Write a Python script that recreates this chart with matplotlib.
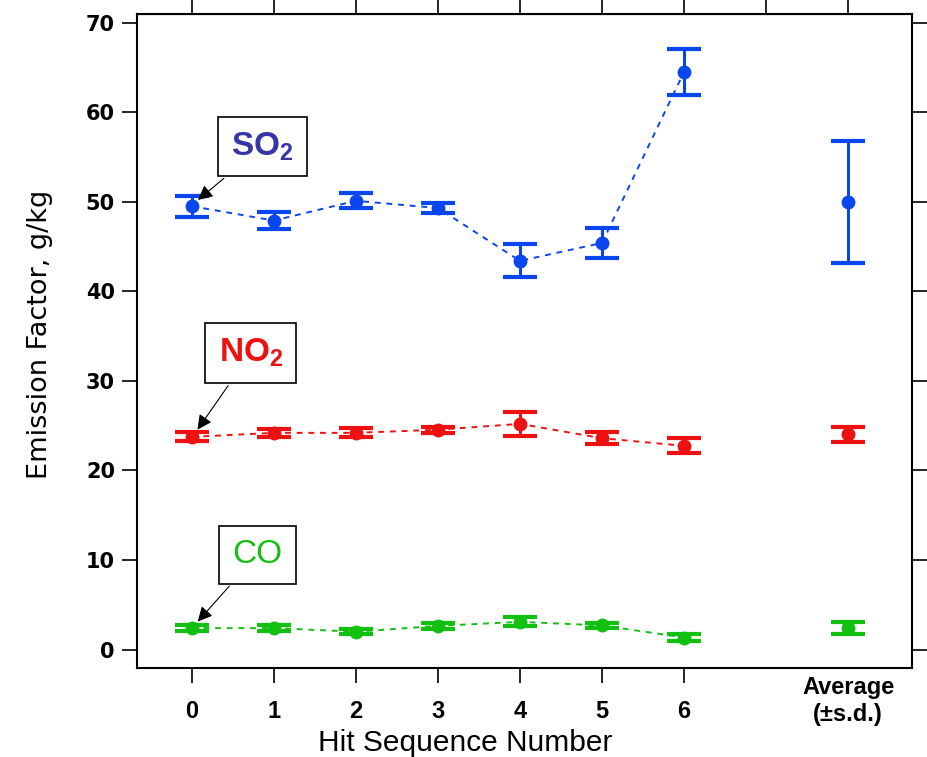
import numpy as np
import matplotlib
matplotlib.use("Agg")
import matplotlib.pyplot as plt
from matplotlib.transforms import blended_transform_factory

# hit sequence 0..6, the average is drawn at x = 8
hits = [0, 1, 2, 3, 4, 5, 6]
avg_x = 8
y_ticks = [0, 10, 20, 30, 40, 50, 60, 70]

so2 = [49.5, 47.9, 50.1, 49.3, 43.4, 45.4, 64.5]
so2_err = [1.15, 0.9, 0.85, 0.55, 1.85, 1.65, 2.55]
so2_avg, so2_sd = 50.0, 6.8

no2 = [23.75, 24.2, 24.2, 24.55, 25.2, 23.6, 22.75]
no2_err = [0.5, 0.45, 0.5, 0.35, 1.35, 0.7, 0.85]
no2_avg, no2_sd = 24.05, 0.85

co = [2.4, 2.4, 2.0, 2.65, 3.1, 2.7, 1.35]
co_err = [0.3, 0.3, 0.3, 0.3, 0.5, 0.3, 0.4]
co_avg, co_sd = 2.4, 0.65

blue = "#0A46EE"
red = "#EE1111"
green = "#12C012"

narrow = ["Liberation Sans", "DejaVu Sans"]
plt.rcParams["mathtext.fontset"] = "custom"
plt.rcParams["mathtext.rm"] = "Liberation Sans"
plt.rcParams["mathtext.bf"] = "Liberation Sans:bold"

fig = plt.figure(figsize=(9.27, 7.57), dpi=100)
ax = fig.add_axes([0.148, 0.117, 0.836, 0.865])

series = [
    (so2, so2_err, so2_avg, so2_sd, blue),
    (no2, no2_err, no2_avg, no2_sd, red),
    (co, co_err, co_avg, co_sd, green),
]
for vals, errs, avg, sd, col in series:
    ax.plot(hits, vals, ls=(0, (3, 3)), lw=1.4, color=col, zorder=2)
    ax.errorbar(hits, vals, yerr=errs, fmt="o", color=col, ms=9,
                elinewidth=2.2, capsize=12, capthick=3, zorder=3)
    ax.errorbar([avg_x], [avg], yerr=[sd], fmt="o", color=col, ms=9,
                elinewidth=2.2, capsize=12, capthick=3, zorder=3)

# species labels with arrows to the first point
box = dict(boxstyle="square,pad=0.4", fc="white", ec="black", lw=1.2)
arrow = dict(arrowstyle="-|>", color="black", lw=0.8, mutation_scale=22)
ax.annotate(r"SO$_\mathbf{2}$", xy=(0.05, 50.0), xytext=(0.86, 56.2), ha="center", va="center",
            fontsize=24, fontweight="bold", color="#3535A5", family=narrow,
            bbox=box, arrowprops=arrow)
ax.annotate(r"NO$_\mathbf{2}$", xy=(0.05, 24.3), xytext=(0.72, 33.1), ha="center", va="center",
            fontsize=24, fontweight="bold", color=red, family=narrow,
            bbox=box, arrowprops=arrow)
ax.annotate("CO", xy=(0.05, 2.9), xytext=(0.80, 10.6), ha="center", va="center",
            fontsize=24, color=green, family=narrow,
            bbox=box, arrowprops=arrow)

ax.set_xlim(-0.665, 8.78)
ax.set_ylim(-2.1, 71)

ax.set_yticks(y_ticks, [str(t) for t in y_ticks], fontweight="bold", family="DejaVu Sans")
ax.set_xticks(hits, [str(h) for h in hits], fontweight="bold", family=narrow)
ax.tick_params(axis="both", direction="out", length=11, width=1.2, color="black")
ax.tick_params(axis="y", right=True, labelsize=15, pad=5)
ax.tick_params(axis="x", labelsize=17, pad=12)

# top axis has ticks at every position including 7 and 8
top = ax.secondary_xaxis("top")
top.set_xticks(range(0, 9))
top.tick_params(direction="out", length=11, width=1.2, labeltop=False)

for sp in ax.spines.values():
    sp.set_linewidth(1.5)

trans = blended_transform_factory(ax.transData, ax.transAxes)
ax.text(avg_x, -0.012, "Average\n(±s.d.)", transform=trans, ha="center", va="top",
        fontsize=17, fontweight="bold", family=narrow, linespacing=1.2)

ax.set_xlabel("Hit Sequence Number", fontsize=21.5, family=narrow)
ax.xaxis.set_label_coords(0.423, -0.092)
ax.set_ylabel("Emission Factor, g/kg", fontsize=19.5)
ax.yaxis.set_label_coords(-0.108, 0.51)

fig.savefig("out.png", dpi=100)
